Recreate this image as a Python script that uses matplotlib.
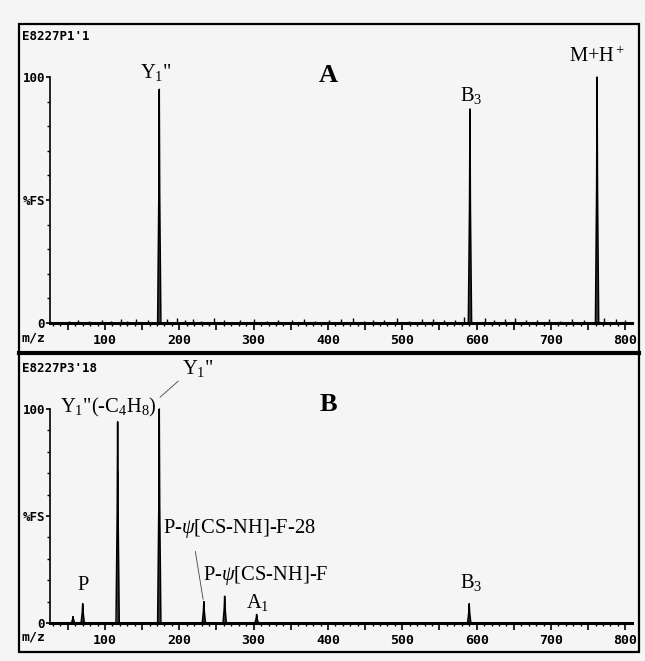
import matplotlib
matplotlib.use("Agg")
import matplotlib.pyplot as plt
from matplotlib.ticker import MultipleLocator, FuncFormatter
from matplotlib.patches import Rectangle

plt.rcParams['mathtext.fontset'] = 'custom'
plt.rcParams['mathtext.rm'] = 'Liberation Serif'
plt.rcParams['mathtext.it'] = 'Liberation Serif:italic'
plt.rcParams['mathtext.bf'] = 'Liberation Serif:bold'

# spectrum A (E8227P1'1): m/z, %FS
a_mz = [173, 591, 762]
a_int = [95, 87, 100]
a_labels = ['Y$_1$"', 'B$_3$', 'M+H$^+$']

# baseline noise in spectrum A
a_noise_mz = [52, 64, 79, 96, 108, 121, 130, 142, 158, 184, 197, 208, 219, 229, 246, 260,
              281, 300, 318, 333, 352, 368, 383, 401, 418, 433, 448, 461, 476, 493, 509, 527,
              541, 556, 571, 583, 611, 624, 638, 651, 667, 681, 697, 712, 728, 744, 772, 787, 800]
a_noise_int = [0.8, 1.2, 0.9, 1.4, 1.0, 1.8, 0.9, 1.5, 1.1, 1.6, 2.0, 1.2, 1.7, 1.0, 1.9, 1.3,
               1.1, 1.6, 0.9, 1.4, 1.2, 1.8, 1.0, 1.3, 1.7, 2.1, 1.0, 1.4, 1.2, 1.9, 0.9, 1.5,
               1.8, 1.1, 1.4, 2.6, 1.9, 1.2, 1.5, 2.0, 1.1, 1.3, 1.8, 1.0, 1.6, 1.2, 2.2, 1.7, 1.3]

# spectrum B (E8227P3'18)
b_mz = [57, 70, 117, 173, 233, 261, 304, 590]
b_int = [3, 9, 94, 100, 10, 12.5, 4, 9]

x_min, x_max = 26, 809

W, H = 645, 661
BG = '#f5f5f5'
AX_FONT = 'DejaVu Sans Mono'
AX_SIZE = 9.5
SERIF = 'Liberation Serif'
LBL = 14.8

fig = plt.figure(figsize=(W / 100, H / 100), dpi=100, facecolor=BG)


def px_axes(x0, y0, x1, y1):
    # axes placed by pixel edges (top-left origin)
    return fig.add_axes([x0 / W, 1 - y1 / H, (x1 - x0) / W, (y1 - y0) / H])


def draw_spectrum(ax, mz, inten):
    for m, h in zip(mz, inten):
        ax.plot([m - 2.2, m - 0.6, m, m + 0.6, m + 2.2], [0, h * 0.55, h, h * 0.55, 0],
                color='black', lw=1.1, clip_on=False)
        ax.plot([m, m], [0, h * 0.75], color='black', lw=1.1, clip_on=False)


def style_axes(ax):
    ax.set_facecolor(BG)
    ax.patch.set_alpha(0)
    ax.set_xlim(x_min, x_max)
    ax.set_ylim(0, 100)
    for s in ['top', 'right']:
        ax.spines[s].set_visible(False)
    ax.spines['bottom'].set_linewidth(2.2)
    ax.spines['left'].set_linewidth(1.2)
    ax.xaxis.set_major_locator(MultipleLocator(50))
    ax.xaxis.set_minor_locator(MultipleLocator(10))
    ax.xaxis.set_major_formatter(FuncFormatter(lambda v, p: '%d' % v if v % 100 == 0 and v > 0 else ''))
    ax.yaxis.set_major_locator(MultipleLocator(50))
    ax.yaxis.set_minor_locator(MultipleLocator(10))
    ax.yaxis.set_major_formatter(FuncFormatter(lambda v, p: {0: '0', 50: '%FS', 100: '100'}.get(int(v), '')))
    ax.tick_params(axis='x', which='major', direction='out', length=5, width=1.2, pad=3,
                   labelsize=AX_SIZE)
    ax.tick_params(axis='x', which='minor', direction='out', length=2.5, width=1.0)
    ax.tick_params(axis='y', which='major', direction='out', length=3, width=1.2, pad=0.5,
                   labelsize=9)
    ax.tick_params(axis='y', which='minor', direction='out', length=2, width=1.0)
    for lab in ax.get_xticklabels() + ax.get_yticklabels():
        lab.set_family(AX_FONT)
        lab.set_fontweight('bold')


# outer frame and separator
fig.add_artist(Rectangle((19 / W, 1 - 652 / H), 620 / W, 628 / H, transform=fig.transFigure,
                         fill=False, lw=1.6, edgecolor='black'))
fig.add_artist(plt.Line2D([19 / W, 639 / W], [1 - 353 / H, 1 - 353 / H], transform=fig.transFigure,
                          color='black', lw=3))

# --- spectrum A ---
axA = px_axes(50, 77, 632, 323)
style_axes(axA)
axA.vlines(a_noise_mz, 0, a_noise_int, color='black', lw=1.0)
draw_spectrum(axA, a_mz, a_int)
axA.text(a_mz[0] - 4, 102, a_labels[0], ha='center', va='center', family=SERIF, fontsize=LBL)
axA.text(a_mz[1] + 2, 92.5, a_labels[1], ha='center', va='center', family=SERIF, fontsize=LBL)
axA.text(a_mz[2], 108, a_labels[2], ha='center', va='center', family=SERIF, fontsize=LBL)
axA.text(400, 100.5, 'A', ha='center', va='center', family=SERIF, fontsize=19, fontweight='bold')

fig.text(22 / W, 1 - 36 / H, "E8227P1'1", ha='left', va='center', family=AX_FONT,
         fontweight='bold', fontsize=9)
fig.text(22 / W, 1 - 338 / H, 'm/z', ha='left', va='center', family=AX_FONT,
         fontweight='bold', fontsize=AX_SIZE)

# --- spectrum B ---
axB = px_axes(50, 409, 632, 623)
style_axes(axB)
draw_spectrum(axB, b_mz, b_int)

fig.text(22 / W, 1 - 368 / H, "E8227P3'18", ha='left', va='center', family=AX_FONT,
         fontweight='bold', fontsize=9)
fig.text(22 / W, 1 - 637 / H, 'm/z', ha='left', va='center', family=AX_FONT,
         fontweight='bold', fontsize=AX_SIZE)

axB.text(b_mz[1], 17.3, 'P', ha='center', va='center', family=SERIF, fontsize=LBL)
axB.text(104, 100.5, 'Y$_1$"(-C$_4$H$_8$)', ha='center', va='center',
         family=SERIF, fontsize=LBL)
axB.annotate('Y$_1$"', xy=(b_mz[3] + 1, 105.5), xytext=(225, 119),
             ha='center', va='center', family=SERIF, fontsize=LBL, annotation_clip=False,
             arrowprops=dict(arrowstyle='-', lw=0.6, color='#444444', shrinkA=1, shrinkB=0,
                             relpos=(0.0, 0.05)))
axB.annotate('P-$\\mathit{\\psi}$[CS-NH]-F-28', xy=(b_mz[4] - 1, b_int[4] + 1), xytext=(178, 44),
             ha='left', va='center', family=SERIF, fontsize=LBL, annotation_clip=False,
             arrowprops=dict(arrowstyle='-', lw=0.6, color='#444444', shrinkA=6, shrinkB=0,
                             relpos=(0.2, 0.0)))
axB.text(232, 22.4, 'P-$\\mathit{\\psi}$[CS-NH]-F', ha='left', va='center',
         family=SERIF, fontsize=LBL)
axB.text(b_mz[6] + 1, 9.5, 'A$_1$', ha='center', va='center', family=SERIF, fontsize=LBL)
axB.text(b_mz[7] + 3, 18.7, 'B$_3$', ha='center', va='center', family=SERIF, fontsize=LBL)
axB.text(400, 102, 'B', ha='center', va='center', family=SERIF, fontsize=19, fontweight='bold')

fig.savefig('out.png', dpi=100, facecolor=BG)
